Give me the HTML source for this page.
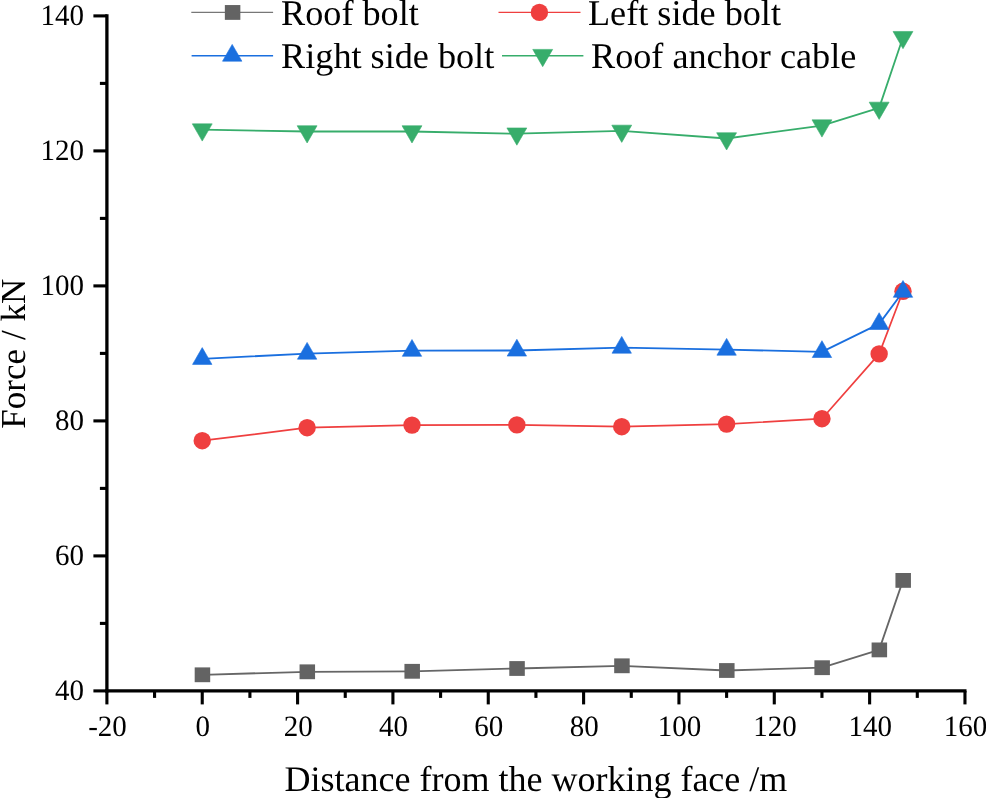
<!DOCTYPE html>
<html><head><meta charset="utf-8"><title>Force vs distance</title>
<style>
html,body{margin:0;padding:0;background:#fff;}
body{width:986px;height:798px;overflow:hidden;}
svg{display:block;}
.t{font-family:"Liberation Serif","Times New Roman",serif;fill:#000;text-rendering:geometricPrecision;}
</style></head><body>
<svg width="986" height="798" viewBox="0 0 986 798">
<rect width="986" height="798" fill="#fff"/>
<line x1="106.90" y1="14.3" x2="106.90" y2="692.55" stroke="#000" stroke-width="3.3"/>
<line x1="105.25" y1="690.90" x2="966.51" y2="690.90" stroke="#000" stroke-width="3.1"/>
<line x1="93.40" y1="690.90" x2="106.90" y2="690.90" stroke="#000" stroke-width="3.1"/>
<line x1="99.90" y1="623.40" x2="106.90" y2="623.40" stroke="#000" stroke-width="3.1"/>
<line x1="93.40" y1="555.90" x2="106.90" y2="555.90" stroke="#000" stroke-width="3.1"/>
<line x1="99.90" y1="488.40" x2="106.90" y2="488.40" stroke="#000" stroke-width="3.1"/>
<line x1="93.40" y1="420.90" x2="106.90" y2="420.90" stroke="#000" stroke-width="3.1"/>
<line x1="99.90" y1="353.40" x2="106.90" y2="353.40" stroke="#000" stroke-width="3.1"/>
<line x1="93.40" y1="285.90" x2="106.90" y2="285.90" stroke="#000" stroke-width="3.1"/>
<line x1="99.90" y1="218.40" x2="106.90" y2="218.40" stroke="#000" stroke-width="3.1"/>
<line x1="93.40" y1="150.90" x2="106.90" y2="150.90" stroke="#000" stroke-width="3.1"/>
<line x1="99.90" y1="83.40" x2="106.90" y2="83.40" stroke="#000" stroke-width="3.1"/>
<line x1="93.40" y1="15.90" x2="106.90" y2="15.90" stroke="#000" stroke-width="3.1"/>
<line x1="106.90" y1="690.90" x2="106.90" y2="704.40" stroke="#000" stroke-width="3.1"/>
<line x1="154.57" y1="690.90" x2="154.57" y2="697.90" stroke="#000" stroke-width="3.1"/>
<line x1="202.24" y1="690.90" x2="202.24" y2="704.40" stroke="#000" stroke-width="3.1"/>
<line x1="249.91" y1="690.90" x2="249.91" y2="697.90" stroke="#000" stroke-width="3.1"/>
<line x1="297.58" y1="690.90" x2="297.58" y2="704.40" stroke="#000" stroke-width="3.1"/>
<line x1="345.25" y1="690.90" x2="345.25" y2="697.90" stroke="#000" stroke-width="3.1"/>
<line x1="392.92" y1="690.90" x2="392.92" y2="704.40" stroke="#000" stroke-width="3.1"/>
<line x1="440.59" y1="690.90" x2="440.59" y2="697.90" stroke="#000" stroke-width="3.1"/>
<line x1="488.26" y1="690.90" x2="488.26" y2="704.40" stroke="#000" stroke-width="3.1"/>
<line x1="535.93" y1="690.90" x2="535.93" y2="697.90" stroke="#000" stroke-width="3.1"/>
<line x1="583.60" y1="690.90" x2="583.60" y2="704.40" stroke="#000" stroke-width="3.1"/>
<line x1="631.27" y1="690.90" x2="631.27" y2="697.90" stroke="#000" stroke-width="3.1"/>
<line x1="678.94" y1="690.90" x2="678.94" y2="704.40" stroke="#000" stroke-width="3.1"/>
<line x1="726.61" y1="690.90" x2="726.61" y2="697.90" stroke="#000" stroke-width="3.1"/>
<line x1="774.28" y1="690.90" x2="774.28" y2="704.40" stroke="#000" stroke-width="3.1"/>
<line x1="821.95" y1="690.90" x2="821.95" y2="697.90" stroke="#000" stroke-width="3.1"/>
<line x1="869.62" y1="690.90" x2="869.62" y2="704.40" stroke="#000" stroke-width="3.1"/>
<line x1="917.29" y1="690.90" x2="917.29" y2="697.90" stroke="#000" stroke-width="3.1"/>
<line x1="964.96" y1="690.90" x2="964.96" y2="704.40" stroke="#000" stroke-width="3.1"/>
<text transform="translate(84.0,699.70) scale(1.0,1.02)" text-anchor="end" class="t" font-size="29">40</text>
<text transform="translate(84.0,564.70) scale(1.0,1.02)" text-anchor="end" class="t" font-size="29">60</text>
<text transform="translate(84.0,429.70) scale(1.0,1.02)" text-anchor="end" class="t" font-size="29">80</text>
<text transform="translate(84.0,294.70) scale(1.0,1.02)" text-anchor="end" class="t" font-size="29">100</text>
<text transform="translate(84.0,159.70) scale(1.0,1.02)" text-anchor="end" class="t" font-size="29">120</text>
<text transform="translate(84.0,24.70) scale(1.0,1.02)" text-anchor="end" class="t" font-size="29">140</text>
<text transform="translate(107.50,735.8) scale(1.0,1.02)" text-anchor="middle" class="t" font-size="29">-20</text>
<text transform="translate(202.84,735.8) scale(1.0,1.02)" text-anchor="middle" class="t" font-size="29">0</text>
<text transform="translate(298.18,735.8) scale(1.0,1.02)" text-anchor="middle" class="t" font-size="29">20</text>
<text transform="translate(393.52,735.8) scale(1.0,1.02)" text-anchor="middle" class="t" font-size="29">40</text>
<text transform="translate(488.86,735.8) scale(1.0,1.02)" text-anchor="middle" class="t" font-size="29">60</text>
<text transform="translate(584.20,735.8) scale(1.0,1.02)" text-anchor="middle" class="t" font-size="29">80</text>
<text transform="translate(679.54,735.8) scale(1.0,1.02)" text-anchor="middle" class="t" font-size="29">100</text>
<text transform="translate(774.88,735.8) scale(1.0,1.02)" text-anchor="middle" class="t" font-size="29">120</text>
<text transform="translate(870.22,735.8) scale(1.0,1.02)" text-anchor="middle" class="t" font-size="29">140</text>
<text transform="translate(965.56,735.8) scale(1.0,1.02)" text-anchor="middle" class="t" font-size="29">160</text>
<text x="284.5" y="790.8" class="t" font-size="36">Distance from the working face /m</text>
<text transform="translate(24.8,428.7) rotate(-90)" class="t" font-size="35.1">Force / kN</text>
<polyline points="202.24,674.80 307.11,671.80 411.99,671.30 516.86,668.50 621.74,665.80 726.61,670.50 821.95,667.70 879.15,649.90 902.99,580.40" fill="none" stroke="#666666" stroke-width="1.8" stroke-linejoin="round"/>
<rect x="194.69" y="667.40" width="15.5" height="14.8" fill="#636363"/>
<rect x="299.56" y="664.40" width="15.5" height="14.8" fill="#636363"/>
<rect x="404.44" y="663.90" width="15.5" height="14.8" fill="#636363"/>
<rect x="509.31" y="661.10" width="15.5" height="14.8" fill="#636363"/>
<rect x="614.19" y="658.40" width="15.5" height="14.8" fill="#636363"/>
<rect x="719.06" y="663.10" width="15.5" height="14.8" fill="#636363"/>
<rect x="814.40" y="660.30" width="15.5" height="14.8" fill="#636363"/>
<rect x="871.60" y="642.50" width="15.5" height="14.8" fill="#636363"/>
<rect x="895.44" y="573.00" width="15.5" height="14.8" fill="#636363"/>
<polyline points="202.24,440.70 307.11,427.70 411.99,425.10 516.86,424.90 621.74,426.70 726.61,424.10 821.95,418.70 879.15,353.90 902.99,291.30" fill="none" stroke="#ef3f3f" stroke-width="1.7" stroke-linejoin="round"/>
<circle cx="202.24" cy="440.70" r="8.7" fill="#ef3f3f"/>
<circle cx="307.11" cy="427.70" r="8.7" fill="#ef3f3f"/>
<circle cx="411.99" cy="425.10" r="8.7" fill="#ef3f3f"/>
<circle cx="516.86" cy="424.90" r="8.7" fill="#ef3f3f"/>
<circle cx="621.74" cy="426.70" r="8.7" fill="#ef3f3f"/>
<circle cx="726.61" cy="424.10" r="8.7" fill="#ef3f3f"/>
<circle cx="821.95" cy="418.70" r="8.7" fill="#ef3f3f"/>
<circle cx="879.15" cy="353.90" r="8.7" fill="#ef3f3f"/>
<circle cx="902.99" cy="291.30" r="8.7" fill="#ef3f3f"/>
<polyline points="202.24,358.80 307.11,353.60 411.99,350.70 516.86,350.50 621.74,347.60 726.61,349.60 821.95,351.90 879.15,323.90 902.99,291.70" fill="none" stroke="#1a6fdf" stroke-width="1.8" stroke-linejoin="round"/>
<polygon points="202.24,347.60 211.94,364.40 192.54,364.40" fill="#1a6fdf" stroke="#1a6fdf" stroke-width="0.6" stroke-linejoin="round"/>
<polygon points="307.11,342.40 316.81,359.20 297.41,359.20" fill="#1a6fdf" stroke="#1a6fdf" stroke-width="0.6" stroke-linejoin="round"/>
<polygon points="411.99,339.50 421.69,356.30 402.29,356.30" fill="#1a6fdf" stroke="#1a6fdf" stroke-width="0.6" stroke-linejoin="round"/>
<polygon points="516.86,339.30 526.56,356.10 507.16,356.10" fill="#1a6fdf" stroke="#1a6fdf" stroke-width="0.6" stroke-linejoin="round"/>
<polygon points="621.74,336.40 631.44,353.20 612.04,353.20" fill="#1a6fdf" stroke="#1a6fdf" stroke-width="0.6" stroke-linejoin="round"/>
<polygon points="726.61,338.40 736.31,355.20 716.91,355.20" fill="#1a6fdf" stroke="#1a6fdf" stroke-width="0.6" stroke-linejoin="round"/>
<polygon points="821.95,340.70 831.65,357.50 812.25,357.50" fill="#1a6fdf" stroke="#1a6fdf" stroke-width="0.6" stroke-linejoin="round"/>
<polygon points="879.15,312.70 888.85,329.50 869.45,329.50" fill="#1a6fdf" stroke="#1a6fdf" stroke-width="0.6" stroke-linejoin="round"/>
<polygon points="902.99,280.50 912.69,297.30 893.29,297.30" fill="#1a6fdf" stroke="#1a6fdf" stroke-width="0.6" stroke-linejoin="round"/>
<polyline points="202.24,129.60 307.11,131.50 411.99,131.50 516.86,133.70 621.74,130.90 726.61,138.50 821.95,125.60 879.15,107.90 902.99,37.20" fill="none" stroke="#37ad6b" stroke-width="1.8" stroke-linejoin="round"/>
<polygon points="192.29,123.86 212.19,123.86 202.24,141.09" fill="#37ad6b" stroke="#37ad6b" stroke-width="0.6" stroke-linejoin="round"/>
<polygon points="297.16,125.76 317.06,125.76 307.11,142.99" fill="#37ad6b" stroke="#37ad6b" stroke-width="0.6" stroke-linejoin="round"/>
<polygon points="402.04,125.76 421.94,125.76 411.99,142.99" fill="#37ad6b" stroke="#37ad6b" stroke-width="0.6" stroke-linejoin="round"/>
<polygon points="506.91,127.96 526.81,127.96 516.86,145.19" fill="#37ad6b" stroke="#37ad6b" stroke-width="0.6" stroke-linejoin="round"/>
<polygon points="611.79,125.16 631.69,125.16 621.74,142.39" fill="#37ad6b" stroke="#37ad6b" stroke-width="0.6" stroke-linejoin="round"/>
<polygon points="716.66,132.76 736.56,132.76 726.61,149.99" fill="#37ad6b" stroke="#37ad6b" stroke-width="0.6" stroke-linejoin="round"/>
<polygon points="812.00,119.86 831.90,119.86 821.95,137.09" fill="#37ad6b" stroke="#37ad6b" stroke-width="0.6" stroke-linejoin="round"/>
<polygon points="869.20,102.16 889.10,102.16 879.15,119.39" fill="#37ad6b" stroke="#37ad6b" stroke-width="0.6" stroke-linejoin="round"/>
<polygon points="893.04,31.46 912.94,31.46 902.99,48.69" fill="#37ad6b" stroke="#37ad6b" stroke-width="0.6" stroke-linejoin="round"/>
<line x1="191.3" y1="12.45" x2="273.1" y2="12.45" stroke="#777" stroke-width="1.3"/><rect x="224.85" y="5.05" width="15.5" height="14.8" fill="#636363"/><text x="281.1" y="24.65" class="t" font-size="36.2">Roof bolt</text>
<line x1="498.5" y1="12.4" x2="580.5" y2="12.4" stroke="#ef3f3f" stroke-width="1.4"/><circle cx="539.40" cy="12.40" r="8.7" fill="#ef3f3f"/><text x="588.0" y="24.65" class="t" font-size="36.2">Left side bolt</text>
<line x1="191.6" y1="55.7" x2="273.1" y2="55.7" stroke="#1a6fdf" stroke-width="1.6"/><polygon points="232.20,44.39 241.90,61.19 222.50,61.19" fill="#1a6fdf" stroke="#1a6fdf" stroke-width="0.6" stroke-linejoin="round"/><text x="281.1" y="67.7" class="t" font-size="36.2">Right side bolt</text>
<line x1="502" y1="55.7" x2="583.4" y2="55.7" stroke="#37ad6b" stroke-width="1.6"/><polygon points="532.75,49.40 552.65,49.40 542.70,66.63" fill="#37ad6b" stroke="#37ad6b" stroke-width="0.6" stroke-linejoin="round"/><text x="591.0" y="67.7" class="t" font-size="36.2">Roof anchor cable</text>
</svg>
</body></html>
